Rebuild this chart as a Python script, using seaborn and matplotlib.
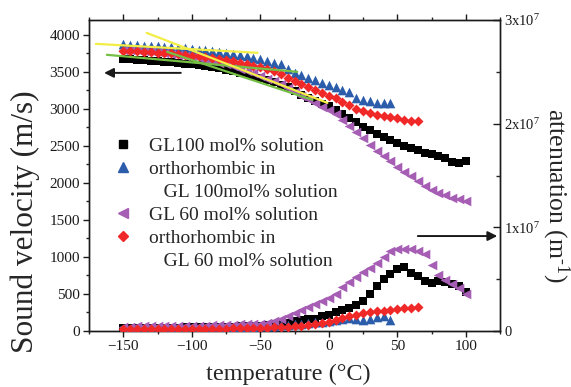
import numpy as np
import pandas as pd
import matplotlib
matplotlib.use("Agg")
import matplotlib.pyplot as plt
from matplotlib.lines import Line2D
from matplotlib.ticker import MultipleLocator, FixedLocator
import seaborn as sns

# ---------------- data ----------------
temps_all = np.arange(-150, 105, 5)     # GL100 and GL60 series
temps_blue = np.arange(-150, 50, 5)     # orthorhombic in GL100
temps_red = np.arange(-150, 70, 5)      # orthorhombic in GL60

vel_gl100 = [3680, 3672, 3665, 3658, 3650, 3642, 3635, 3628, 3620, 3610,
             3600, 3590, 3580, 3565, 3550, 3530, 3510, 3490, 3465, 3440,
             3415, 3390, 3360, 3325, 3290, 3240, 3190, 3140, 3100, 3070,
             3040, 2990, 2930, 2870, 2820, 2760, 2710, 2660, 2620, 2580,
             2540, 2500, 2470, 2440, 2410, 2390, 2360, 2330, 2280, 2270, 2300]
vel_orth100 = [3870, 3865, 3860, 3855, 3850, 3845, 3840, 3830, 3825, 3820,
               3810, 3800, 3790, 3780, 3770, 3755, 3740, 3725, 3710, 3690,
               3670, 3650, 3625, 3600, 3535, 3490, 3455, 3420, 3385, 3355,
               3320, 3290, 3260, 3230, 3150, 3120, 3100, 3085, 3075, 3080]
vel_gl60 = [3800, 3795, 3790, 3785, 3775, 3765, 3755, 3745, 3730, 3715,
            3700, 3685, 3665, 3645, 3625, 3600, 3575, 3545, 3515, 3485,
            3450, 3410, 3370, 3330, 3280, 3230, 3180, 3130, 3080, 3030,
            2990, 2930, 2850, 2770, 2690, 2600, 2510, 2430, 2360, 2290,
            2220, 2150, 2090, 2030, 1960, 1900, 1860, 1830, 1800, 1780, 1760]
vel_orth60 = [3780, 3778, 3775, 3770, 3765, 3760, 3755, 3750, 3740, 3730,
              3720, 3710, 3700, 3690, 3675, 3660, 3645, 3625, 3605, 3585,
              3560, 3535, 3505, 3475, 3420, 3370, 3340, 3300, 3260, 3220,
              3180, 3140, 3090, 3050, 3000, 2970, 2940, 2920, 2900, 2890,
              2870, 2850, 2840, 2830]

# attenuation in units of 1e6 m^-1
att_gl100 = [0.29, 0.29, 0.29, 0.30, 0.30, 0.32, 0.32, 0.33, 0.33, 0.34,
             0.36, 0.36, 0.37, 0.39, 0.40, 0.42, 0.43, 0.44, 0.47, 0.50,
             0.53, 0.57, 0.63, 0.69, 0.79, 0.93, 1.07, 1.18, 1.20, 1.43,
             1.54, 1.79, 2.04, 2.22, 2.51, 2.94, 3.58, 4.30, 5.01, 5.51,
             5.94, 6.16, 5.58, 5.30, 4.80, 4.60, 4.87, 4.73, 4.51, 4.30, 3.80]
att_orth100 = [0.21, 0.21, 0.21, 0.23, 0.23, 0.24, 0.24, 0.26, 0.26, 0.27,
               0.27, 0.29, 0.29, 0.30, 0.31, 0.33, 0.34, 0.36, 0.39, 0.42,
               0.44, 0.47, 0.52, 0.56, 0.61, 0.66, 0.72, 0.79, 0.86, 0.86,
               0.93, 1.04, 1.15, 1.25, 1.15, 1.07, 1.15, 1.36, 1.43, 1.07]
att_gl60 = [0.43, 0.43, 0.44, 0.44, 0.46, 0.46, 0.47, 0.47, 0.49, 0.50,
            0.50, 0.52, 0.53, 0.54, 0.56, 0.57, 0.60, 0.63, 0.66, 0.69,
            0.72, 0.79, 0.98, 1.18, 1.40, 1.70, 2.05, 2.35, 2.62, 2.85,
            3.15, 3.60, 4.20, 4.75, 5.20, 5.66, 6.09, 6.59, 7.16, 7.73,
            7.88, 7.88, 7.88, 7.73, 7.40, 6.40, 5.40, 4.90, 4.55, 4.10, 3.55]
att_orth60 = [0.18, 0.18, 0.18, 0.19, 0.19, 0.19, 0.19, 0.20, 0.20, 0.21,
              0.21, 0.21, 0.22, 0.23, 0.24, 0.24, 0.25, 0.26, 0.27, 0.29,
              0.30, 0.32, 0.34, 0.37, 0.40, 0.44, 0.52, 0.59, 0.68, 0.79,
              0.90, 1.04, 1.22, 1.40, 1.58, 1.72, 1.83, 1.90, 1.97, 2.04,
              2.11, 2.18, 2.26, 2.33]

# tangent (fit) lines drawn on the velocity curves: (x0, x1), (y0, y1)
fit_yellow1_x, fit_yellow1_y = [-170, -52], [3878, 3757]
fit_yellow2_x, fit_yellow2_y = [-133, -1], [4027, 3081]
fit_green1_x, fit_green1_y = [-162, -23], [3730, 3500]
fit_green2_x, fit_green2_y = [-118, -12], [3770, 3122]

# axis-indicator arrows (tail, head)
arrow_left_x, arrow_left_y = [-108, -164], [3486, 3486]
arrow_right_x, arrow_right_y = [65, 123], [9.16e6, 9.16e6]

labels = ["GL100 mol% solution", "orthorhombic in", "   GL 100mol% solution",
          "GL 60 mol% solution", "orthorhombic in", "   GL 60 mol% solution"]
right_ticks = [0, 1e7, 2e7, 3e7]
right_ticklabels = ["0", "1x10$^7$", "2x10$^7$", "3x10$^7$"]

# ---------------- style ----------------
sns.set_theme(style="ticks")
plt.rcParams["font.family"] = ["Liberation Serif", "DejaVu Serif"]
plt.rcParams["mathtext.fontset"] = "custom"
plt.rcParams["mathtext.rm"] = "Liberation Serif"
plt.rcParams["mathtext.it"] = "Liberation Serif:italic"
plt.rcParams["mathtext.default"] = "regular"

c_black = "#000000"
c_blue = "#2c5dab"
c_purple = "#a65db4"
c_red = "#f02828"
c_yellow = "#f2ee45"
c_green = "#74bf44"

fig = plt.figure(figsize=(5.71, 3.87), dpi=100)
ax = fig.add_axes([0.1559, 0.1447, 0.7198, 0.8036])
ax2 = ax.twinx()

# velocity (left axis)
sns.scatterplot(x=temps_all, y=vel_gl100, ax=ax, marker="s", color=c_black, s=26, linewidth=0, zorder=3)
sns.scatterplot(x=temps_blue, y=vel_orth100, ax=ax, marker="^", color=c_blue, s=48, linewidth=0, zorder=3)
sns.scatterplot(x=temps_all, y=vel_gl60, ax=ax, marker="<", color=c_purple, s=48, linewidth=0, zorder=3)
sns.scatterplot(x=temps_red, y=vel_orth60, ax=ax, marker="D", color=c_red, s=26, linewidth=0, zorder=3)

for fx, fy, col in [(fit_yellow1_x, fit_yellow1_y, c_yellow), (fit_green1_x, fit_green1_y, c_green),
                    (fit_green2_x, fit_green2_y, c_green), (fit_yellow2_x, fit_yellow2_y, c_yellow)]:
    sns.lineplot(x=fx, y=fy, ax=ax, color=col, linewidth=1.6, zorder=4)

# attenuation (right axis)
sns.scatterplot(x=temps_all, y=np.array(att_gl100) * 1e6, ax=ax2, marker="s", color=c_black, s=26, linewidth=0, zorder=3)
sns.scatterplot(x=temps_blue, y=np.array(att_orth100) * 1e6, ax=ax2, marker="^", color=c_blue, s=48, linewidth=0, zorder=3)
sns.scatterplot(x=temps_all, y=np.array(att_gl60) * 1e6, ax=ax2, marker="<", color=c_purple, s=48, linewidth=0, zorder=3)
sns.scatterplot(x=temps_red, y=np.array(att_orth60) * 1e6, ax=ax2, marker="D", color=c_red, s=26, linewidth=0, zorder=3)

# arrows
arrow_kw = dict(arrowstyle="-|>", color="k", lw=1.4, mutation_scale=14, shrinkA=0, shrinkB=0)
ax.annotate("", xy=(arrow_left_x[1], arrow_left_y[1]), xytext=(arrow_left_x[0], arrow_left_y[0]),
            arrowprops=arrow_kw, annotation_clip=False)
ax2.annotate("", xy=(arrow_right_x[1], arrow_right_y[1]), xytext=(arrow_right_x[0], arrow_right_y[0]),
             arrowprops=arrow_kw, annotation_clip=False)

# axes limits & ticks
ax.set_xlim(-175, 125)
ax.set_ylim(0, 4200)
ax2.set_ylim(0, 3e7)

ax.xaxis.set_major_locator(MultipleLocator(50))
ax.xaxis.set_minor_locator(MultipleLocator(25))
ax.yaxis.set_major_locator(MultipleLocator(500))
ax.yaxis.set_minor_locator(MultipleLocator(250))
ax2.yaxis.set_major_locator(FixedLocator(right_ticks))
ax2.yaxis.set_minor_locator(MultipleLocator(5e6))
ax2.set_yticklabels(right_ticklabels)

ax.tick_params(axis="both", which="major", direction="out", length=4.5, width=1, labelsize=11,
               colors="k", top=True, bottom=True, left=True, right=False, labeltop=False, pad=2)
ax.tick_params(axis="both", which="minor", direction="out", length=2.5, width=1,
               top=True, bottom=True, left=True, right=False)
ax2.tick_params(axis="y", which="major", direction="in", length=5, width=1, labelsize=10.5, colors="k", pad=3)
ax2.tick_params(axis="y", which="minor", direction="in", length=3, width=1)

for a in (ax, ax2):
    for sp in a.spines.values():
        sp.set_visible(True)
        sp.set_color("k")
        sp.set_linewidth(1.0)

ax.set_xlabel("temperature (\u00b0C)", fontsize=17.5)
ax.xaxis.set_label_coords(0.484, -0.141, transform=ax.transAxes)
ax.xaxis.label.set_verticalalignment("center")
ax.set_ylabel("Sound velocity (m/s)", fontsize=22.5)
ax.yaxis.set_label_coords(-0.156, 0.35, transform=ax.transAxes)
ax.yaxis.label.set_verticalalignment("center")
ax2.set_ylabel("attenuation (m$^{\\text{-}1}$)", fontsize=18.5, rotation=270)
ax2.yaxis.set_label_coords(1.136, 0.437, transform=ax2.transAxes)
ax2.yaxis.label.set_verticalalignment("center")

# legend
handles = [Line2D([], [], marker="s", color=c_black, linestyle="none", markersize=5.5),
           Line2D([], [], marker="^", color=c_blue, linestyle="none", markersize=7),
           Line2D([], [], linestyle="none"),
           Line2D([], [], marker="<", color=c_purple, linestyle="none", markersize=7),
           Line2D([], [], marker="D", color=c_red, linestyle="none", markersize=5.5),
           Line2D([], [], linestyle="none")]
ax2.legend(handles=handles, labels=labels, loc="upper left", bbox_to_anchor=(0.058, 0.624),
           frameon=False, fontsize=14, handlelength=1.0, handletextpad=0.85,
           labelspacing=0.28, borderpad=0, borderaxespad=0)

fig.savefig("out.png", dpi=100)
